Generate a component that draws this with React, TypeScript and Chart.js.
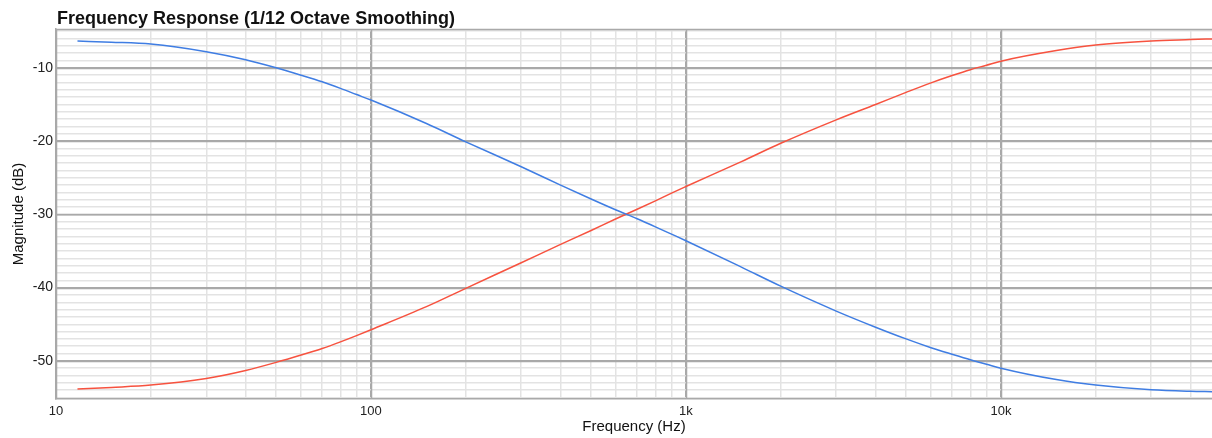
import React, { useEffect, useRef } from "react";
import { Chart, registerables } from "chart.js";

Chart.register(...registerables);

const TITLE = "Frequency Response (1/12 Octave Smoothing)";
const X_TITLE = "Frequency (Hz)";
const Y_TITLE = "Magnitude (dB)";

const frequencies = [
  11.7, 15, 20, 30, 40, 50, 60, 70, 80, 90, 100, 150, 200, 300, 400, 500, 600, 700, 800, 900,
  1000, 1500, 2000, 3000, 4000, 5000, 6000, 7000, 8000, 9000, 10000, 15000, 20000, 30000, 40000, 46800,
];

const lowSeries = [
  -6.35, -6.5, -6.75, -7.8, -8.9, -10.0, -11.0, -11.9, -12.8, -13.65, -14.4, -17.6, -20.1, -23.5, -26.0,
  -27.9, -29.4, -30.6, -31.7, -32.7, -33.6, -37.2, -39.8, -43.2, -45.4, -47.0, -48.2, -49.1, -49.85,
  -50.45, -51.0, -52.55, -53.3, -53.95, -54.15, -54.2,
];

const highSeries = [
  -53.85, -53.62, -53.3, -52.4, -51.3, -50.2, -49.2, -48.3, -47.4, -46.55, -45.75, -42.6, -40.1, -36.6,
  -34.1, -32.2, -30.6, -29.3, -28.15, -27.1, -26.2, -22.8, -20.3, -17.1, -15.0, -13.35, -12.05, -11.05,
  -10.25, -9.65, -9.1, -7.65, -6.9, -6.35, -6.15, -6.05,
];

const xGridValues = [
  10, 20, 30, 40, 50, 60, 70, 80, 90,
  100, 200, 300, 400, 500, 600, 700, 800, 900,
  1000, 2000, 3000, 4000, 5000, 6000, 7000, 8000, 9000,
  10000, 20000, 30000, 40000,
];
const xTickLabels: Record<number, string> = { 10: "10", 100: "100", 1000: "1k", 10000: "10k" };
const xMajorValues = [10, 100, 1000, 10000];
const yMajorValues = [-50, -40, -30, -20, -10];

const X_MIN = 10;
const X_MAX = 46800;
const Y_MIN = -55.2;
const Y_MAX = -4.7;

const FONT = '"Liberation Sans", Arial, Helvetica, sans-serif';
const MAJOR = "#a9a9a9";
const MINOR = "#e3e3e3";

const isDecade = (v: number) => {
  const l = Math.log10(v);
  return Math.abs(l - Math.round(l)) < 1e-6;
};

export default function App() {
  const ref = useRef<HTMLCanvasElement | null>(null);

  useEffect(() => {
    if (!ref.current) return;
    const framePlugin = {
      id: "frame",
      beforeDatasetsDraw(chart: any) {
        const { ctx, chartArea, scales } = chart;
        ctx.save();
        ctx.strokeStyle = MAJOR;
        ctx.lineWidth = 1.5;
        ctx.beginPath();
        xMajorValues.forEach((v) => {
          const px = Math.round(scales.x.getPixelForValue(v)) + 0.5;
          ctx.moveTo(px, chartArea.top);
          ctx.lineTo(px, chartArea.bottom);
        });
        yMajorValues.forEach((v) => {
          const py = Math.round(scales.y.getPixelForValue(v)) + 0.5;
          ctx.moveTo(chartArea.left, py);
          ctx.lineTo(chartArea.right, py);
        });
        ctx.moveTo(chartArea.left, chartArea.top + 0.5);
        ctx.lineTo(chartArea.right, chartArea.top + 0.5);
        ctx.stroke();
        ctx.restore();
      },
      afterDraw(chart: any) {
        const { ctx, chartArea } = chart;
        ctx.save();
        ctx.fillStyle = "#111";
        ctx.font = `bold 18px ${FONT}`;
        ctx.textBaseline = "alphabetic";
        ctx.textAlign = "left";
        ctx.fillText(TITLE, chartArea.left + 1, 24);
        ctx.restore();
      },
    };

    const chart = new Chart(ref.current, {
      type: "line",
      data: {
        datasets: [
          {
            label: "Low",
            data: frequencies.map((f, i) => ({ x: f, y: lowSeries[i] })),
            borderColor: "#3f7de3",
            borderWidth: 1.5,
            pointRadius: 0,
            cubicInterpolationMode: "monotone",
          },
          {
            label: "High",
            data: frequencies.map((f, i) => ({ x: f, y: highSeries[i] })),
            borderColor: "#f7523f",
            borderWidth: 1.5,
            pointRadius: 0,
            cubicInterpolationMode: "monotone",
          },
        ],
      },
      options: {
        animation: false,
        responsive: false,
        maintainAspectRatio: false,
        layout: { padding: { top: 29, left: 0, right: 0, bottom: 0 } },
        plugins: {
          legend: { display: false },
          title: { display: false },
          tooltip: { enabled: false },
        },
        scales: {
          x: {
            type: "logarithmic",
            min: X_MIN,
            max: X_MAX,
            afterBuildTicks: (axis: any) => {
              axis.ticks = xGridValues.map((v) => ({ value: v }));
            },
            afterFit: (axis: any) => {
              axis.height = 39;
            },
            ticks: {
              autoSkip: false,
              maxRotation: 0,
              minRotation: 0,
              padding: 5,
              color: "#222",
              font: { family: FONT, size: 13 },
              callback: (v: any) => xTickLabels[Number(v)] ?? "",
            },
            grid: {
              drawTicks: false,
              color: (c: any) => {
                const v = c.tick?.value;
                if (v == null) return MINOR;
                return isDecade(v) ? MAJOR : MINOR;
              },
              lineWidth: 1.5,
            },
            border: { display: true, color: MAJOR, width: 1.5 },
            title: {
              display: true,
              text: X_TITLE,
              color: "#111",
              font: { family: FONT, size: 15 },
              padding: { top: 0, bottom: 2 },
            },
          },
          y: {
            type: "linear",
            min: Y_MIN,
            max: Y_MAX,
            afterFit: (axis: any) => {
              axis.width = 56;
            },
            ticks: {
              stepSize: 1,
              includeBounds: false,
              autoSkip: false,
              padding: 3,
              color: "#222",
              font: { family: FONT, size: 14 },
              callback: (v: any) => {
                const n = Math.round(Number(v));
                return n % 10 === 0 ? String(n) : "";
              },
            },
            grid: {
              drawTicks: false,
              color: (c: any) => {
                const v = c.tick?.value;
                if (v == null) return MINOR;
                return Math.round(v) % 10 === 0 ? MAJOR : MINOR;
              },
              lineWidth: 1.5,
            },
            border: { display: true, color: MAJOR, width: 1.5 },
            title: {
              display: true,
              text: Y_TITLE,
              color: "#111",
              font: { family: FONT, size: 15 },
              padding: { top: 10, bottom: 0 },
            },
          },
        },
      },
      plugins: [framePlugin],
    } as any);

    return () => chart.destroy();
  }, []);

  return (
    <div style={{ position: "fixed", left: 0, top: 0, width: 1212, height: 438, background: "#fff" }}>
      <canvas ref={ref} width={1212} height={438} style={{ display: "block" }} />
    </div>
  );
}
